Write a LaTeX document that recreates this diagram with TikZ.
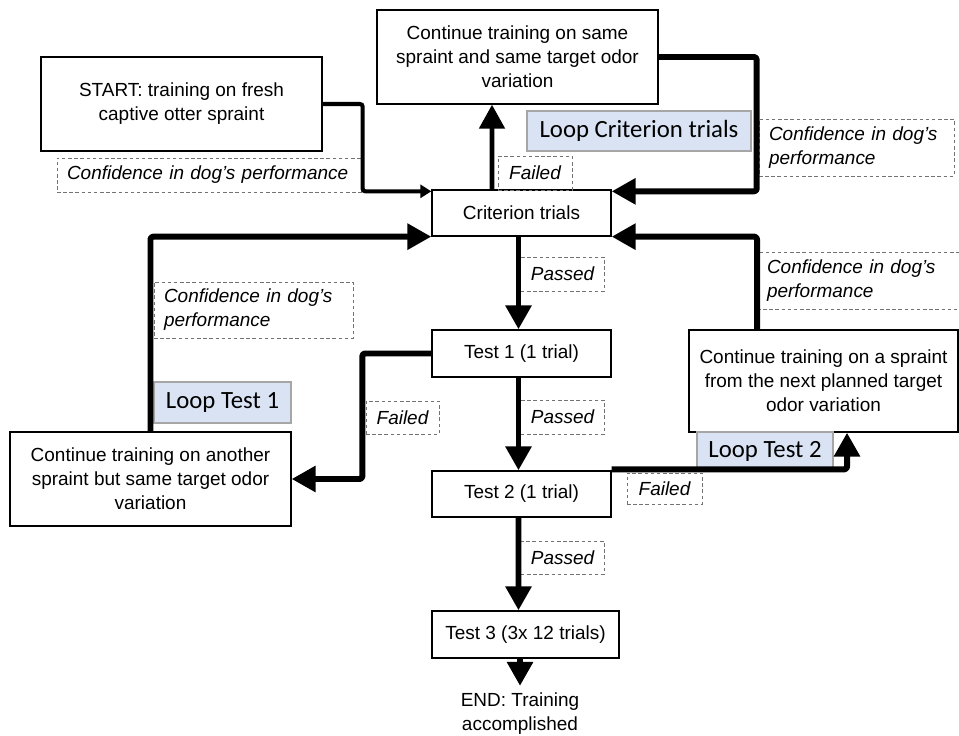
\documentclass[tikz,border=0pt]{standalone}
\usepackage{fontspec}
\setmainfont{Liberation Sans}
\newfontfamily\loopfont{Carlito}
\usetikzlibrary{arrows.meta}
\usetikzlibrary{calc}
\usepackage{xcolor}
\definecolor{loopblue}{RGB}{218,227,243}

\begin{document}
\begin{tikzpicture}[
    font=\fontsize{10.8}{13.6}\selectfont,
    stepbox/.style={draw, line width=0.75pt, align=center, inner sep=0pt},
    loopbox/.style={draw=gray!70, fill=loopblue, line width=0.6pt, inner sep=0pt,
      font=\loopfont\fontsize{14.1}{16}\selectfont},
    notebox/.style={draw=gray!90!black, dash pattern=on 2pt off 1.5pt, line width=0.5pt,
      inner xsep=0.2cm, inner ysep=0pt, align=left, font=\itshape\fontsize{10.8}{13.6}\selectfont},
    flow/.style={line width=3.4pt, line join=round, rounded corners=1.5pt,
      -{Triangle[length=0.48cm,width=0.5cm]}},
  ]

      \useasboundingbox (0,0) rectangle (19.18,-14.7);

      % Boxes
      \node[stepbox, minimum width=5.62cm, minimum height=1.88cm] (start) at (3.63,-2.08) {START: training on fresh\\captive otter spraint};
      \node[stepbox, minimum width=5.62cm, minimum height=1.88cm] (same) at (10.35,-1.14) {Continue training on same\\spraint and same target odor\\variation};
      \node[stepbox, minimum width=3.58cm, minimum height=0.92cm] (crit) at (10.43,-4.26) {Criterion trials};
      \node[stepbox, minimum width=3.58cm, minimum height=0.94cm] (testa) at (10.43,-7.07) {Test 1 (1 trial)};
      \node[stepbox, minimum width=3.58cm, minimum height=0.92cm] (testb) at (10.43,-9.88) {Test 2 (1 trial)};
      \node[stepbox, minimum width=3.74cm, minimum height=0.94cm] (testc) at (10.51,-12.69) {Test 3 (3x 12 trials)};
      \node[align=center, inner sep=0pt] (end) at (10.40,-14.28) {END: Training\\accomplished};
      \node[stepbox, minimum width=5.62cm, minimum height=1.88cm] (another) at (3.01,-9.58) {Continue training on another\\spraint but same target odor\\variation};
      \node[stepbox, minimum width=5.38cm, minimum height=2.04cm] (next) at (16.47,-7.62) {Continue training on a spraint\\from the next planned target\\odor variation};

      % Loop labels
      \node[loopbox, minimum width=4.48cm, minimum height=0.80cm] (loopcrit) at (12.78,-2.62) {Loop Criterion trials};
      \node[loopbox, minimum width=2.74cm, minimum height=0.82cm] (looptesta) at (4.45,-8.05) {Loop Test 1};
      \node[loopbox, minimum width=2.72cm, minimum height=0.76cm] (looptestb) at (15.30,-9.02) {Loop Test 2};

      % Dashed notes
      \node[notebox, text width=5.68cm, minimum height=0.68cm] (confa) at (4.18,-3.50) {Confidence in dog’s performance};
      \node[notebox, minimum width=1.48cm, minimum height=0.68cm] (faila) at (10.70,-3.46) {Failed};
      \node[notebox, text width=3.50cm, minimum height=1.14cm] (confb) at (17.13,-2.95) {Confidence in dog’s\\performance};
      \node[notebox, minimum width=1.62cm, minimum height=0.68cm] (passa) at (11.25,-5.48) {Passed};
      \node[notebox, text width=3.64cm, minimum height=1.14cm] (confc) at (17.16,-5.61) {Confidence in dog’s\\performance};
      \node[notebox, text width=3.58cm, minimum height=1.12cm] (confd) at (5.07,-6.20) {Confidence in dog’s\\performance};
      \node[notebox, minimum width=1.46cm, minimum height=0.66cm] (failb) at (8.05,-8.35) {Failed};
      \node[notebox, minimum width=1.62cm, minimum height=0.68cm] (passb) at (11.25,-8.34) {Passed};
      \node[notebox, minimum width=1.50cm, minimum height=0.62cm] (failc) at (13.29,-9.77) {Failed};
      \node[notebox, minimum width=1.62cm, minimum height=0.66cm] (passc) at (11.25,-11.15) {Passed};

      % Arrows
      \draw[line width=2.3pt, rounded corners=1.5pt, -{Triangle[length=0.22cm,width=0.26cm]}]
        (start.east) -- ++(0.8,0) |- ([yshift=-0.04cm]crit.north east -| crit.west);
      \draw[flow, line width=2.8pt] ($(crit.north)+(-0.59,0)$) -- ($(same.south)+(-0.51,0)$);
      \draw[flow] (same.east) -- ++(1.96,0) |- ([yshift=-0.04cm]crit.north east);
      \draw[flow] ([xshift=-0.06cm]crit.south) -- ([xshift=-0.06cm]testa.north);
      \draw[flow] ([xshift=-0.06cm]testa.south) -- ([xshift=-0.06cm]testb.north);
      \draw[flow] ([xshift=-0.06cm]testb.south) -- ($(testc.north)+(-0.14,0)$);
      \draw[flow] (end.north |- testc.south) -- ([yshift=0.14cm]end.north);
      \draw[flow] (testa.west) -- ++(-1.38,0) |- (another.east);
      \draw[flow] (another.north) |- (crit.south west);
      \draw[flow] ($(next.north)+(-1.33,0)$) |- (crit.south east);
      \draw[flow] ([yshift=0.02cm]testb.north east) -| ($(next.south)+(0.47,0)$);

  \end{tikzpicture}
\end{document}
